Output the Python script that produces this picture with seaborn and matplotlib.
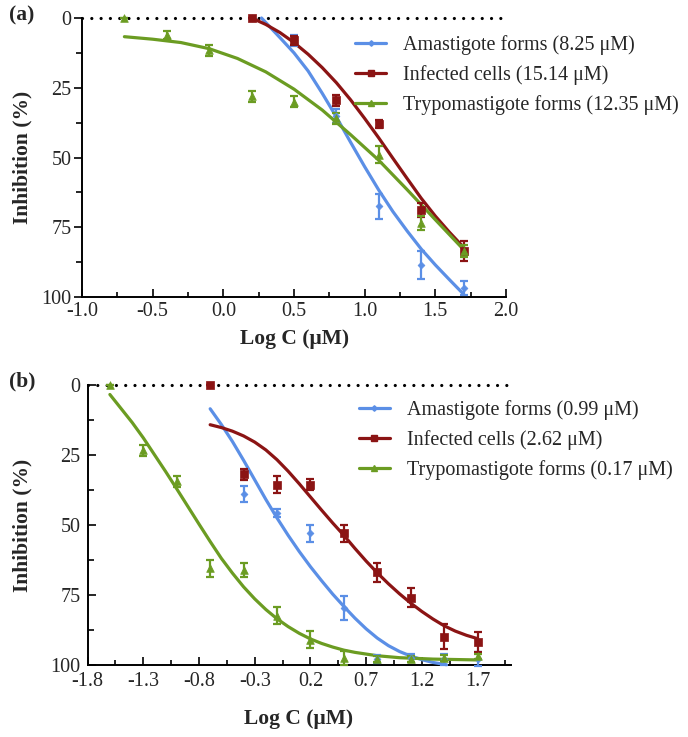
import numpy as np
import pandas as pd
import matplotlib
matplotlib.use("Agg")
import matplotlib.pyplot as plt
from matplotlib.lines import Line2D
from matplotlib.ticker import MultipleLocator, FixedLocator
import seaborn as sns

# ---- panel (a) measured points ----
xa_ama = [0.2, 0.5, 0.8, 1.1, 1.4, 1.7]
ya_ama = [0, 8, 35, 67.5, 88.5, 96.8]
ea_ama = [0, 2, 2.5, 4.5, 5, 2.5]
xa_inf = [0.2, 0.5, 0.8, 1.1, 1.4, 1.7]
ya_inf = [0, 8, 29.5, 38, 68.8, 83.5]
ea_inf = [0, 1.5, 2, 1.5, 2.5, 3.5]
xa_try = [-0.7, -0.4, -0.1, 0.2, 0.5, 0.8, 1.1, 1.4, 1.7]
ya_try = [0, 6, 11.5, 28, 30, 36, 49, 73.5, 83.5]
ea_try = [0, 1.5, 2, 2, 2, 2, 3, 2.5, 2]

# ---- panel (a) fitted curves ----
ca_ama_x = [0.27, 0.4, 0.5, 0.6, 0.7, 0.8, 0.9, 1.0, 1.1, 1.2, 1.3, 1.4, 1.5, 1.6, 1.7]
ca_ama_y = [0, 7, 12.5, 19, 27, 35.5, 44.5, 53.3, 61.7, 69.4, 76.3, 82.8, 88.5, 93.8, 99]
ca_inf_x = [0.2, 0.3, 0.4, 0.5, 0.6, 0.7, 0.8, 0.9, 1.0, 1.1, 1.2, 1.3, 1.4, 1.5, 1.6, 1.7]
ca_inf_y = [0, 2.3, 5.2, 8.8, 13, 17.8, 23.2, 29.3, 36, 43, 50.3, 57.5, 64.6, 71, 76.8, 82.2]
ca_try_x = [-0.7, -0.5, -0.3, -0.1, 0.1, 0.3, 0.5, 0.7, 0.9, 1.1, 1.3, 1.5, 1.7]
ca_try_y = [6.7, 7.6, 8.8, 11.0, 14.5, 19.3, 25.5, 33.0, 41.8, 51.0, 61.5, 72.3, 83.0]

# ---- panel (b) measured points ----
xb_ama = [-0.7, -0.4, -0.1, 0.2, 0.5, 0.8, 1.1, 1.4, 1.7]
yb_ama = [0, 39, 45.8, 53, 79.8, 98, 97.7, 98, 98]
eb_ama = [0, 3, 1.5, 3, 4.2, 1.5, 1.5, 2, 2.5]
xb_inf = [-0.7, -0.4, -0.1, 0.2, 0.5, 0.8, 1.1, 1.4, 1.7]
yb_inf = [0, 32, 35.7, 35.7, 53, 67, 76, 90, 91.8]
eb_inf = [0, 2, 3, 2, 3, 3.5, 3.5, 4.5, 3.5]
xb_try = [-1.6, -1.3, -1.0, -0.7, -0.4, -0.1, 0.2, 0.5, 0.8, 1.1, 1.4, 1.7]
yb_try = [0, 23.5, 34.5, 65.5, 66, 82.5, 91, 97.6, 98, 98, 97.5, 97]
eb_try = [0, 2, 2, 3, 2.5, 3, 3, 2.5, 1, 1, 1, 1]

# ---- panel (b) fitted curves ----
cb_ama_x = [-0.7, -0.6, -0.5, -0.4, -0.3, -0.2, -0.1, 0.0, 0.1, 0.2, 0.3, 0.4, 0.5,
            0.6, 0.7, 0.8, 0.9, 1.0, 1.1, 1.2, 1.3, 1.42]
cb_ama_y = [8.6, 14.2, 20.3, 27, 34, 41, 47.6, 53.8, 59.6, 65, 70, 74.8, 79.2,
            83.4, 87.2, 90.5, 93.2, 95.3, 96.9, 98.2, 99.2, 100]
cb_inf_x = [-0.7, -0.6, -0.5, -0.4, -0.3, -0.2, -0.1, 0.0, 0.1, 0.2, 0.3, 0.4, 0.5,
            0.6, 0.7, 0.8, 0.9, 1.0, 1.1, 1.2, 1.3, 1.4, 1.5, 1.6, 1.7]
cb_inf_y = [14.3, 15.3, 16.6, 18.3, 20.5, 23.3, 26.8, 30.9, 35.4, 40.1, 44.8, 49.4, 53.8,
            58.5, 63, 67.2, 71.1, 74.7, 78, 81, 83.7, 86.1, 88, 89.5, 90.7]
cb_try_x = [-1.6, -1.5, -1.4, -1.3, -1.2, -1.1, -1.0, -0.9, -0.8, -0.7, -0.6, -0.5,
            -0.4, -0.3, -0.2, -0.1, 0.0, 0.1, 0.2, 0.3, 0.4, 0.5, 0.6, 0.8, 1.0, 1.3, 1.7]
cb_try_y = [3.5, 8.5, 13.5, 19, 25, 31, 37.2, 43.5, 49.8, 56, 62, 67.3,
            72.2, 76.5, 80.3, 83.6, 86.4, 88.8, 90.8, 92.4, 93.7, 94.8, 95.6, 96.8, 97.5, 98, 98.3]

labels_a = ["Amastigote forms (8.25 μM)", "Infected cells (15.14 μM)",
            "Trypomastigote forms (12.35 μM)"]
labels_b = ["Amastigote forms (0.99 μM)", "Infected cells (2.62 μM)",
            "Trypomastigote forms (0.17 μM)"]

xticks_a = [-1.0, -0.5, 0.0, 0.5, 1.0, 1.5, 2.0]
xticks_b = [-1.8, -1.3, -0.8, -0.3, 0.2, 0.7, 1.2, 1.7]
yticks = [0, 25, 50, 75, 100]

colors = ["#5b8fe6", "#8b1414", "#6b9c22"]
markers = ["D", "s", "^"]
msizes = [3.5, 6, 5.5]

sns.set_style("ticks")
plt.rcParams["font.family"] = ["Liberation Serif", "DejaVu Serif"]
plt.rcParams["axes.unicode_minus"] = False

fig = plt.figure(figsize=(6.88, 7.37), dpi=100)
W, H = 688, 737


def px_axes(l, t, r, b):
    return fig.add_axes([l / W, 1 - b / H, (r - l) / W, (b - t) / H])


def draw_panel(ax, pts, curves, labels, xticks, xlim, ytick_dir, ypad, xpad, leg_anchor):
    ax.axhline(0, color="black", lw=2.3, ls=(0, (0.01, 2.9)),
               dash_capstyle="round", zorder=1, clip_on=False)
    for i, c in enumerate(colors):
        cx, cy = curves[i]
        sns.lineplot(x=cx, y=cy, sort=False, color=c, lw=2.3, ax=ax,
                     zorder=3, clip_on=False)
    for i, (c, m, ms) in enumerate(zip(colors, markers, msizes)):
        x, y, e = pts[i]
        ax.errorbar(x, y, yerr=e, fmt="none", ecolor=c, elinewidth=1.6,
                    capsize=2.6, capthick=1.6, zorder=4, clip_on=False)
        df = pd.DataFrame({"x": x, "y": y})
        sns.scatterplot(data=df, x="x", y="y", marker=m, s=ms ** 2, color=c,
                        edgecolor=c, linewidth=0.5, ax=ax, zorder=5, clip_on=False)

    ax.set_xlim(*xlim)
    ax.set_ylim(100, 0)
    ax.xaxis.set_major_locator(FixedLocator(xticks))
    ax.set_xticklabels([f"{t:.1f}" for t in xticks])
    ax.xaxis.set_minor_locator(FixedLocator([t + 0.25 for t in xticks if t + 0.25 <= xlim[1]]))
    ax.yaxis.set_major_locator(FixedLocator(yticks))
    ax.yaxis.set_minor_locator(MultipleLocator(12.5))
    ax.set_xlabel("")
    ax.set_ylabel("")
    sns.despine(ax=ax)
    for s in ["left", "bottom"]:
        ax.spines[s].set_linewidth(1.4)
        ax.spines[s].set_color("black")
    ax.tick_params(axis="x", which="both", direction="in", width=1.4,
                   labelsize=14.5, pad=xpad)
    ax.tick_params(axis="x", which="major", length=6)
    ax.tick_params(axis="x", which="minor", length=3.5)
    ax.tick_params(axis="y", which="both", direction=ytick_dir, width=1.4,
                   labelsize=14.5, pad=ypad)
    ax.tick_params(axis="y", which="major", length=5.5)
    ax.tick_params(axis="y", which="minor", length=4.5)

    handles = [Line2D([], [], color=c, lw=2.3, marker=m, ms=ms * 0.8)
               for c, m, ms in zip(colors, markers, msizes)]
    ax.legend(handles, labels, loc="upper left", bbox_to_anchor=leg_anchor,
              frameon=False, fontsize=14.5, handlelength=1.55, handletextpad=0.85,
              labelspacing=0.5, borderpad=0, borderaxespad=0, numpoints=1)


ax1 = px_axes(82, 18, 506, 297)
draw_panel(ax1,
           [(xa_ama, ya_ama, ea_ama), (xa_inf, ya_inf, ea_inf), (xa_try, ya_try, ea_try)],
           [(ca_ama_x, ca_ama_y), (ca_inf_x, ca_inf_y), (ca_try_x, ca_try_y)],
           labels_a, xticks_a, (-1.0, 2.0), "out", 2, 3.5, (0.644, 0.94))

ax2 = px_axes(87.6, 384.7, 511, 664.7)
draw_panel(ax2,
           [(xb_ama, yb_ama, eb_ama), (xb_inf, yb_inf, eb_inf), (xb_try, yb_try, eb_try)],
           [(cb_ama_x, cb_ama_y), (cb_inf_x, cb_inf_y), (cb_try_x, cb_try_y)],
           labels_b, xticks_b, (-1.8, 2.0), "in", 5, 5, (0.64, 0.944))

bold = dict(fontweight="bold", fontsize=15.5, ha="center", va="center")
fig.text(22 / W, 1 - 157 / H, "Inhibition (%)", rotation=90, **bold)
fig.text(22 / W, 1 - 525 / H, "Inhibition (%)", rotation=90, **bold)
fig.text(295 / W, 1 - 339 / H, "Log C (μM)", **bold)
fig.text(299 / W, 1 - 719 / H, "Log C (μM)", **bold)
fig.text(22 / W, 1 - 15 / H, "(a)", **bold)
fig.text(22 / W, 1 - 381 / H, "(b)", **bold)

fig.savefig("out.png", dpi=100)
